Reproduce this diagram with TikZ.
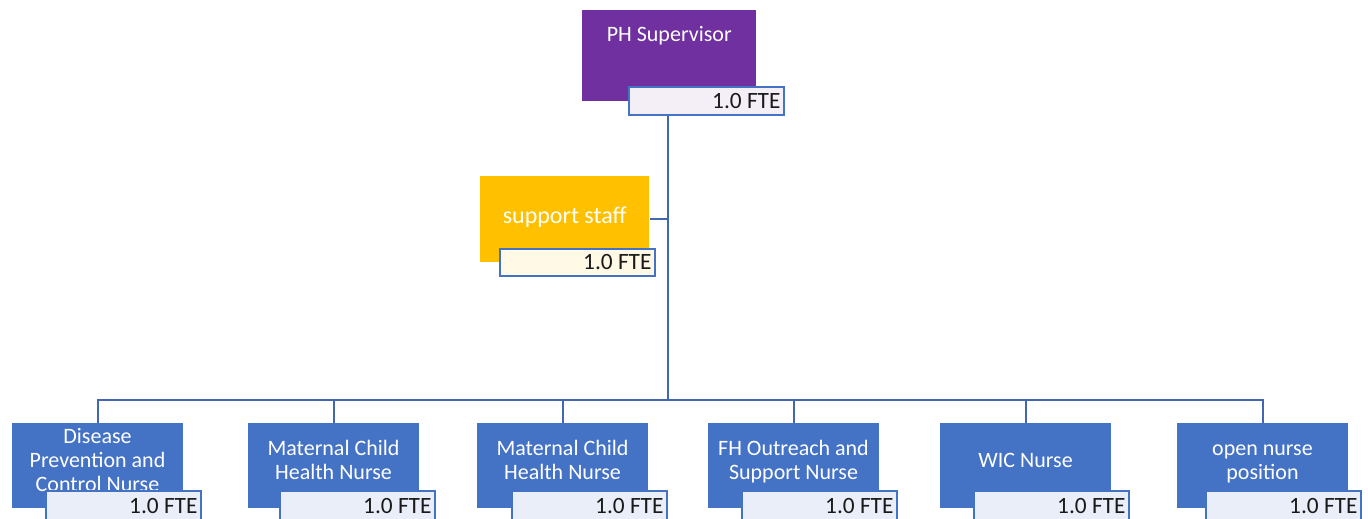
\documentclass[tikz,border=0pt]{standalone}
\usepackage{fontspec}
\setmainfont{Carlito}
\definecolor{supc}{HTML}{7030A0}
\definecolor{staffc}{HTML}{FFC000}
\definecolor{nursec}{HTML}{4472C4}
\definecolor{linec}{HTML}{4266B0}
\definecolor{ftebd}{HTML}{4472C4}
\tikzset{
  role/.style={anchor=north west, inner sep=0pt, text=white, font=\fontsize{16.5}{18}\selectfont, align=center},
  fte/.style={anchor=north west, draw=ftebd, line width=1.5pt, inner sep=0pt, font=\fontsize{17.5}{18}\selectfont, text=black!90},
  conn/.style={draw=linec, line width=1.6pt},
}
\begin{document}
\begin{tikzpicture}[x=0.75pt,y=-0.75pt]
\useasboundingbox (0,0) rectangle (1368,518);
\clip (0,0) rectangle (1368,518);
% boxes
\node[role, fill=supc, minimum width=130.5pt, minimum height=68.25pt, text height=17pt, text depth=39pt] (sup) at (582,10) {PH Supervisor};
\node[fte, fill=supc!8, minimum width=116.25pt, minimum height=21pt] (supfte) at (628,86) {\makebox[111pt][r]{1.0 FTE}};
\node[role, fill=staffc, minimum width=126.75pt, minimum height=64.5pt, font=\fontsize{18}{20}\selectfont] (staff) at (480,176) {\raisebox{6pt}{support staff}};
\node[fte, fill=staffc!10, minimum width=116.25pt, minimum height=20.25pt] (stafffte) at (499,248) {\makebox[111pt][r]{1.0 FTE}};
% nurses
\foreach \i/\xl/\fx/\ty/\txt in {
  1/12/45/460/{Disease\\Prevention and\\Control Nurse},
  2/248/279/460/{Maternal Child\\Health Nurse},
  3/477/511/460/{Maternal Child\\Health Nurse},
  4/708/741/462/{FH Outreach and\\Support Nurse},
  5/940/973/460/{WIC Nurse},
  6/1177/1205/464/{open nurse\\position}}{
  \node[role, fill=nursec, minimum width=128.25pt, minimum height=63.75pt] (n\i) at (\xl,423) {};
  \node[text=white, font=\fontsize{16.5}{18}\selectfont, align=center, inner sep=0pt] (t\i) at (\xl+85.5,\ty) {\txt};
  \node[fte, fill=nursec!12, minimum width=116.25pt, minimum height=24pt] (f\i) at (\fx,490) {\raisebox{1.5pt}{\makebox[111pt][r]{1.0 FTE}}};
}
% connectors
\coordinate (bus) at (668,400);
\draw[conn] (supfte.south -| bus) -- (bus);
\draw[conn] (staff.east) -- (staff.east -| bus);
\draw[conn] (n1.north) -- (n1.north |- bus) -- (n6.north |- bus) -- (n6.north);
\foreach \i in {2,3,4,5}{\draw[conn] (n\i.north) -- (n\i.north |- bus);}
\end{tikzpicture}
\end{document}
